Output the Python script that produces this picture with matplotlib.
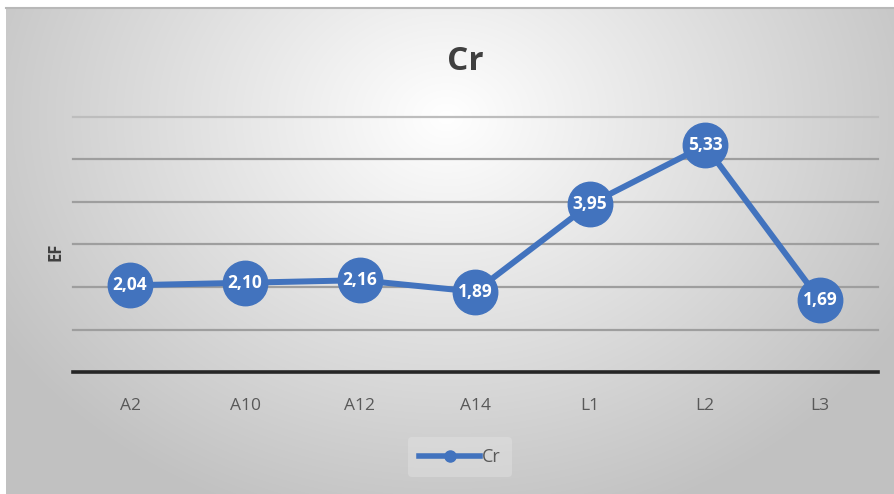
import numpy as np
import matplotlib
matplotlib.use("Agg")
import matplotlib.pyplot as plt
from matplotlib.lines import Line2D

categories = ["A2", "A10", "A12", "A14", "L1", "L2", "L3"]
values = [2.04, 2.10, 2.16, 1.89, 3.95, 5.33, 1.69]
labels = ["2,04", "2,10", "2,16", "1,89", "3,95", "5,33", "1,69"]
series_name = "Cr"
title = "Cr"
ylabel = "EF"

W, H = 894, 494
fig = plt.figure(figsize=(W / 100, H / 100), dpi=100)
fig.patch.set_facecolor("white")

# background gradient panel
bg = fig.add_axes([6 / W, 0, 1 - 6 / W, 1 - 8 / H])
yy, xx = np.mgrid[0:486, 0:888]
cx, cy = 440, 110
d = np.sqrt(((xx - cx) / 520.0) ** 2 + ((yy - cy) / 420.0) ** 2)
val = 1.0 - 0.24 * np.clip(d, 0, 1.2) / 1.0
val = np.clip(val, 0.76, 1.0)
img = np.dstack([val, val, val])
bg.imshow(img, aspect="auto", extent=[0, 1, 0, 1], origin="upper")
bg.axis("off")
# top edge line
fig.add_artist(Line2D([6 / W, 1], [1 - 8 / H, 1 - 8 / H], color="#b8b8b8", lw=1.5))

ax = fig.add_axes([72.5 / W, 1 - 372 / H, 805 / W, 255 / H])
ax.set_facecolor("none")
x = np.arange(len(categories))
color = "#4273be"
ax.plot(x, values, color=color, lw=4.3, marker="o", markersize=32,
        markeredgecolor=color, markerfacecolor=color, solid_capstyle="round", zorder=3)
for xi, v, lab in zip(x, values, labels):
    ax.text(xi, v, lab, color="white", fontsize=12.5, fontweight="bold",
            ha="center", va="center", family=["Open Sans", "DejaVu Sans"], zorder=4)

ax.set_xlim(-0.5, len(categories) - 0.5)
ax.set_ylim(0, 6)
ax.set_yticks([1, 2, 3, 4, 5, 6])
ax.set_yticklabels([])
ax.tick_params(axis="y", length=0)
ax.grid(axis="y", color="#9e9e9e", lw=1.6)
for gl in ax.get_ygridlines():
    gl.set_clip_on(False)
ax.get_ygridlines()[-1].set_color("#bdbdbd")
ax.set_axisbelow(True)
for s in ["top", "right", "left"]:
    ax.spines[s].set_visible(False)
ax.spines["bottom"].set_color("#262626")
ax.spines["bottom"].set_linewidth(2.6)
ax.set_xticks(x)
ax.set_xticklabels(categories, fontsize=12.5, color="#595959", family=["Open Sans", "DejaVu Sans"])
ax.tick_params(axis="x", length=0, pad=19)

fig.text(465 / W, 1 - 62 / H, title, fontsize=24, fontweight="bold", color="#404040",
         ha="center", va="center", family=["Open Sans", "DejaVu Sans"])
fig.text(56 / W, 1 - 252 / H, ylabel, fontsize=12, fontweight="bold", color="#404040",
         ha="center", va="center", rotation=90, family=["Open Sans", "DejaVu Sans"])

handle = Line2D([], [], color=color, lw=4, marker="o", markersize=8,
                markerfacecolor=color, markeredgecolor=color)
leg = fig.legend([handle], [series_name], loc="center", bbox_to_anchor=(460 / W, 1 - 457 / H),
                 frameon=True, handlelength=3.4, handletextpad=0.1,
                 borderpad=0.6, prop={"family": ["Open Sans", "DejaVu Sans"], "size": 13})
leg.get_frame().set_facecolor("#e6e6e6")
leg.get_frame().set_edgecolor("none")
leg.get_frame().set_alpha(0.4)
for t in leg.get_texts():
    t.set_color("#595959")

fig.savefig("out.png", dpi=100)
